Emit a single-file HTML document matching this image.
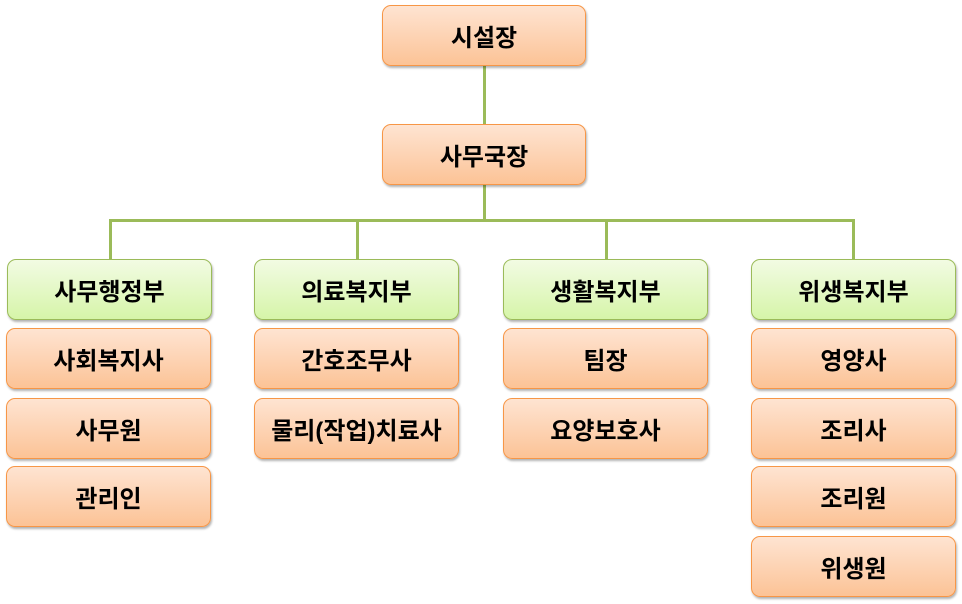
<!DOCTYPE html>
<html><head><meta charset="utf-8"><style>
body{margin:0;width:962px;height:604px;background:#fff;position:relative;overflow:hidden;font-family:"Liberation Sans","Noto Sans CJK KR","NanumGothic",sans-serif}
.b{position:absolute;box-sizing:border-box;border-radius:9px;display:flex;align-items:center;justify-content:center;font-weight:bold;font-size:24px;color:#000;box-shadow:1px 2px 2px rgba(0,0,0,0.3)}
.o{border:1px solid #f79646;background:linear-gradient(#fee4d2,#fcc396)}
.g{border:1px solid #9bbb59;background:linear-gradient(#f2fbe3,#d6f5a9)}
.l{position:absolute;background:#9bbb59}
</style></head><body>
<div class="l" style="left:483px;top:65px;width:3px;height:60px"></div>
<div class="l" style="left:483px;top:184px;width:3px;height:38px"></div>
<div class="l" style="left:109px;top:219px;width:746px;height:3px"></div>
<div class="l" style="left:109px;top:219px;width:3px;height:40px"></div>
<div class="l" style="left:356px;top:219px;width:3px;height:40px"></div>
<div class="l" style="left:605px;top:219px;width:3px;height:40px"></div>
<div class="l" style="left:852px;top:219px;width:3px;height:40px"></div>

<div class="b o" style="left:382px;top:5px;width:204px;height:61px">시설장</div>
<div class="b o" style="left:382px;top:124px;width:204px;height:61px">사무국장</div>

<div class="b g" style="left:7px;top:259px;width:205px;height:61px">사무행정부</div>
<div class="b g" style="left:254px;top:259px;width:205px;height:61px">의료복지부</div>
<div class="b g" style="left:503px;top:259px;width:205px;height:61px">생활복지부</div>
<div class="b g" style="left:751px;top:259px;width:205px;height:61px">위생복지부</div>

<div class="b o" style="left:6px;top:328px;width:205px;height:61px">사회복지사</div>
<div class="b o" style="left:6px;top:398px;width:205px;height:61px">사무원</div>
<div class="b o" style="left:6px;top:466px;width:205px;height:61px">관리인</div>

<div class="b o" style="left:254px;top:328px;width:205px;height:61px">간호조무사</div>
<div class="b o" style="left:254px;top:398px;width:205px;height:61px">물리(작업)치료사</div>

<div class="b o" style="left:503px;top:328px;width:205px;height:61px">팀장</div>
<div class="b o" style="left:503px;top:398px;width:205px;height:61px">요양보호사</div>

<div class="b o" style="left:751px;top:328px;width:205px;height:61px">영양사</div>
<div class="b o" style="left:751px;top:398px;width:205px;height:61px">조리사</div>
<div class="b o" style="left:751px;top:466px;width:205px;height:61px">조리원</div>
<div class="b o" style="left:751px;top:536px;width:205px;height:61px">위생원</div>
</body></html>
